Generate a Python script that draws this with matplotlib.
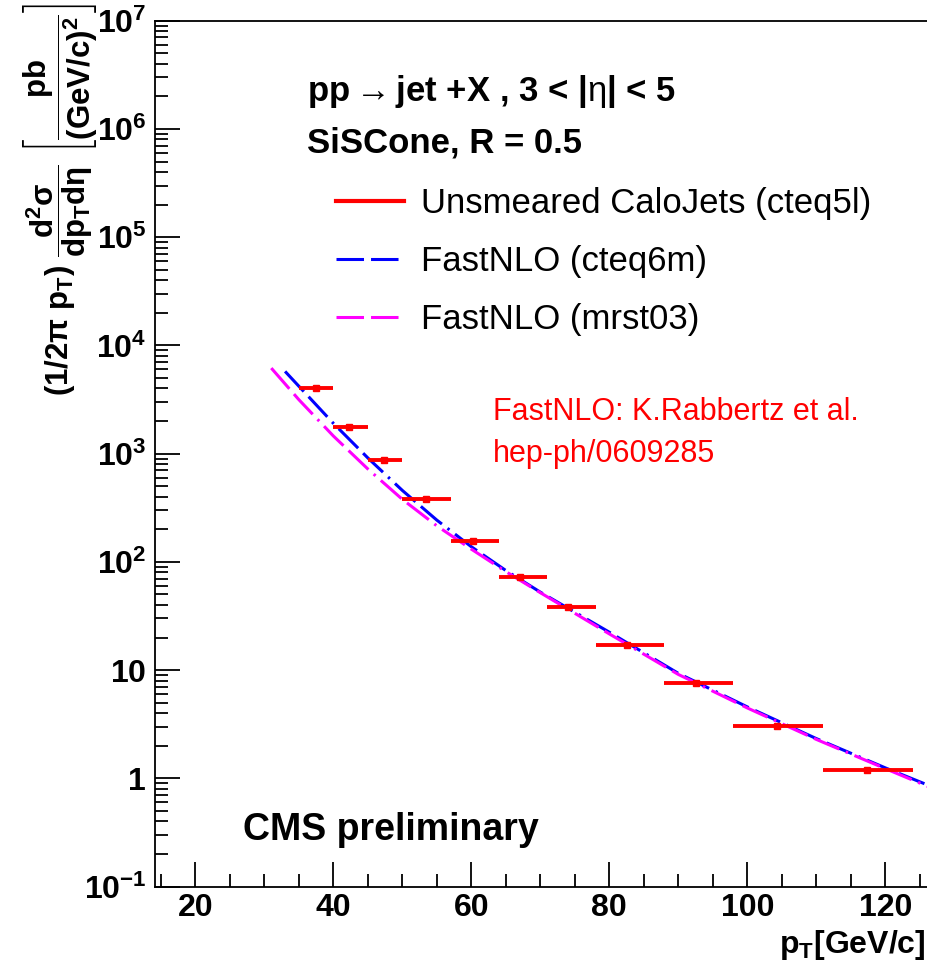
import matplotlib
matplotlib.use("Agg")
import matplotlib.pyplot as plt
from matplotlib.lines import Line2D
from matplotlib.ticker import MultipleLocator, FixedLocator, FuncFormatter, NullFormatter
import numpy as np

plt.rcParams['font.family'] = ['Liberation Sans', 'DejaVu Sans']
plt.rcParams['mathtext.fontset'] = 'custom'
plt.rcParams['mathtext.rm'] = 'Liberation Sans'
plt.rcParams['mathtext.it'] = 'Liberation Sans:italic'
plt.rcParams['mathtext.bf'] = 'Liberation Sans:bold'

# unsmeared CaloJets (cteq5l): bins in pT and cross section [pb/(GeV/c)^2]
bin_lo = [35, 40, 45, 50, 57, 64, 71, 78, 88, 98, 111]
bin_hi = [40, 45, 50, 57, 64, 71, 78, 88, 98, 111, 124]
pt_mean = [37.5, 42.3, 47.4, 53.4, 60.2, 67.0, 74.0, 82.5, 92.5, 104.3, 117.3]
xsec = [4030, 1780, 871, 382, 155, 71.7, 37.9, 17.0, 7.62, 3.03, 1.20]

# FastNLO curves
pt_cteq = [33, 40, 45, 50, 55, 60, 65, 70, 80, 90, 100, 110, 120, 126.2]
nlo_cteq = [5750, 1905, 912, 457, 243, 138, 83.2, 52.5, 22.4, 9.33, 4.57, 2.33, 1.25, 0.865]
pt_mrst = [31, 35, 40, 45, 50, 55, 60, 65, 70, 80, 90, 100, 110, 120, 126.2]
nlo_mrst = [6170, 3150, 1455, 721, 378, 215, 131, 81.3, 51.9, 21.6, 9.12, 4.47, 2.29, 1.23, 0.84]

fig = plt.figure(figsize=(9.28, 9.67), dpi=100)
fig.patch.set_facecolor('white')
ax = fig.add_axes([0.1667, 0.0832, 0.8333, 0.8954])

dash = (0, (9, 2.3, 9, 2.3, 0.8, 2.3))
ax.plot(pt_cteq, nlo_cteq, color='#0000ff', lw=2.2, linestyle=dash)
ax.plot(pt_mrst, nlo_mrst, color='#ff00ff', lw=2.2, linestyle=dash)

xc = np.array(pt_mean)
xerr = [xc - np.array(bin_lo), np.array(bin_hi) - xc]
ax.errorbar(pt_mean, xsec, xerr=xerr, fmt='s', color='#ff0000', ms=4.5,
            elinewidth=2.8, capsize=0, zorder=5)

ax.set_yscale('log')
ax.set_xlim(14.1, 126.2)
ax.set_ylim(0.1, 1e7)

ax.xaxis.set_major_locator(MultipleLocator(20))
ax.xaxis.set_minor_locator(MultipleLocator(5))
ax.yaxis.set_major_locator(FixedLocator(10.0 ** np.arange(-1, 8)))
minor = [m * 10.0 ** e for e in range(-1, 7) for m in range(2, 10)]
ax.yaxis.set_minor_locator(FixedLocator(minor))
ax.yaxis.set_minor_formatter(NullFormatter())


def ylab(v, pos):
    e = int(round(np.log10(v)))
    if e == 0:
        return r'$\mathbf{1}$'
    if e == 1:
        return r'$\mathbf{10}$'
    return r'$\mathbf{10^{%d}}$' % e


ax.yaxis.set_major_formatter(FuncFormatter(ylab))
ax.tick_params(axis='both', which='both', direction='in', width=1.3, colors='black')
ax.tick_params(axis='both', which='major', length=18)
ax.tick_params(axis='both', which='minor', length=9.5)
ax.tick_params(axis='x', which='major', labelsize=23, pad=5)
ax.tick_params(axis='y', which='major', labelsize=23, pad=6)
ax.tick_params(top=False, right=False, which='both')
for lbl in ax.get_xticklabels():
    lbl.set_fontweight('bold')
ax.spines['right'].set_visible(False)
for s in ['left', 'bottom', 'top']:
    ax.spines[s].set_linewidth(1.3)

# texts
fig.text(307 / 928, 1 - 92 / 967,
         r'pp$\rightarrow$jet +X , 3 < |$\mathrm{\eta}$| < 5', fontsize=25,
         fontweight='bold', ha='left', va='center')
fig.text(307 / 928, 1 - 143 / 967, 'SiSCone, R = 0.5', fontsize=25,
         fontweight='bold', ha='left', va='center')

handles = [Line2D([], [], color='#ff0000', lw=3),
           Line2D([], [], color='#0000ff', lw=2.2, linestyle=dash),
           Line2D([], [], color='#ff00ff', lw=2.2, linestyle=dash)]
labels = ['Unsmeared CaloJets (cteq5l)', 'FastNLO (cteq6m)', 'FastNLO (mrst03)']
fig.legend(handles, labels, loc='upper left', bbox_to_anchor=(336 / 928, 1 - 187 / 967),
           frameon=False, fontsize=25, handlelength=1.95, handletextpad=0.5,
           labelspacing=0.72, borderpad=0, borderaxespad=0)

fig.text(493 / 928, 1 - 412 / 967, 'FastNLO: K.Rabbertz et al.', fontsize=22,
         color='#ff0000', ha='left', va='center')
fig.text(493 / 928, 1 - 454 / 967, 'hep-ph/0609285', fontsize=22,
         color='#ff0000', ha='left', va='center')

fig.text(243 / 928, 1 - 830 / 967, 'CMS preliminary', fontsize=27,
         fontweight='bold', ha='left', va='center')

fig.text(0.997, 1 - 945 / 967, r'$\mathbf{p_{T}}$[GeV/c]', fontsize=23,
         fontweight='bold', ha='right', va='center')

fig.text(0.066, 0.997,
         r'$\mathbf{(1/2\pi\ p_{T})\ \dfrac{d^{2}\sigma}{dp_{T}d\eta}\ \left[\dfrac{pb}{(GeV/c)^{2}}\right]}$',
         fontsize=22.5, rotation=90, ha='center', va='top')

fig.savefig('out.png', dpi=100, facecolor='white')
